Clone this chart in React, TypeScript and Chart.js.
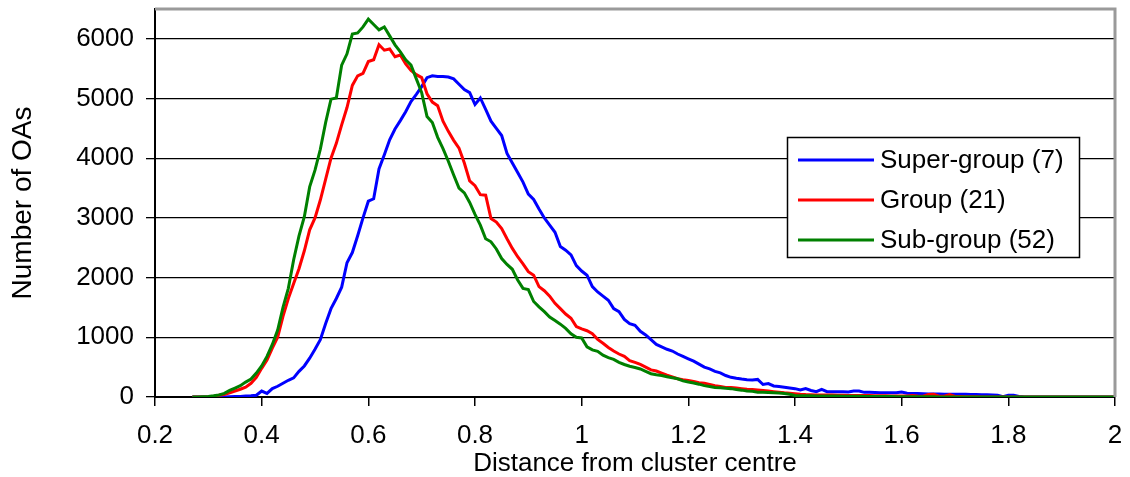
import { useEffect, useRef } from "react";
import { Chart, registerables } from "chart.js";

Chart.register(...registerables);

// Histogram bins: distance from cluster centre, 0.01 wide, starting at 0.27
const BIN_START = 0.27;
const BIN_WIDTH = 0.01;

// Number of output areas per bin, one row per 0.1 of distance (0.27-0.36, 0.37-0.46, ...)
const SUPER_GROUP = [
  0, 0, 0, 0, 0, 0, 0, 5, 10, 10,
  15, 20, 30, 100, 60, 140, 180, 230, 280, 320,
  430, 520, 650, 800, 960, 1230, 1480, 1650, 1840, 2250,
  2420, 2700, 3000, 3280, 3320, 3820, 4060, 4310, 4490, 4630,
  4780, 4950, 5070, 5200, 5350, 5380, 5370, 5370, 5360, 5330,
  5240, 5150, 5100, 4900, 5010, 4820, 4620, 4500, 4380, 4080,
  3920, 3760, 3600, 3400, 3310, 3150, 3000, 2880, 2760, 2520,
  2460, 2380, 2200, 2110, 2040, 1850, 1760, 1690, 1620, 1480,
  1430, 1300, 1230, 1200, 1100, 1040, 960, 880, 840, 800,
  770, 720, 680, 640, 600, 550, 500, 470, 430, 405,
  360, 330, 313, 300, 290, 285, 295, 210, 225, 185,
  175, 162, 150, 140, 117, 140, 110, 90, 128, 90,
  90, 88, 88, 85, 100, 100, 78, 78, 75, 73,
  73, 72, 70, 85, 62, 60, 58, 55, 52, 50,
  50, 48, 48, 46, 45, 45, 42, 40, 38, 36,
  33, 30, 5, 30, 28, 10, 0, 0, 0, 0,
  0, 0, 0, 0, 0, 0, 0, 0, 0, 0,
  0, 0, 0, 0,
];

const GROUP = [
  0, 0, 0, 0, 10, 30, 40, 70, 100, 130,
  165, 230, 330, 480, 620, 820, 1000, 1350, 1650, 1900,
  2150, 2450, 2800, 3000, 3300, 3650, 4000, 4250, 4560, 4850,
  5220, 5380, 5420, 5620, 5650, 5900, 5810, 5830, 5700, 5730,
  5580, 5470, 5400, 5350, 5080, 4940, 4880, 4620, 4450, 4300,
  4170, 3920, 3620, 3540, 3390, 3380, 2990, 2930, 2820, 2650,
  2490, 2350, 2230, 2100, 2040, 1850, 1780, 1690, 1570, 1480,
  1390, 1320, 1180, 1140, 1110, 1060, 965, 900, 830, 770,
  720, 680, 610, 580, 545, 500, 455, 435, 400, 365,
  335, 305, 290, 278, 260, 240, 230, 210, 190, 175,
  160, 160, 150, 140, 130, 125, 118, 110, 100, 90,
  80, 70, 62, 55, 45, 40, 38, 35, 35, 33,
  33, 30, 28, 27, 26, 25, 25, 24, 22, 20,
  20, 18, 18, 17, 16, 25, 15, 14, 40, 45,
  14, 12, 40, 10, 8, 6, 4, 3, 2, 0,
  0, 0, 0, 0, 0, 0, 0, 0, 0, 0,
  0, 0, 0, 0, 0, 0, 0, 0, 0, 0,
  0, 0, 0, 0,
];

const SUB_GROUP = [
  0, 0, 5, 10, 20, 35, 60, 110, 150, 190,
  250, 300, 400, 520, 680, 880, 1120, 1500, 1820, 2300,
  2700, 3020, 3520, 3800, 4150, 4600, 4990, 5010, 5560, 5750,
  6080, 6100, 6200, 6330, 6240, 6150, 6200, 6050, 5900, 5780,
  5650, 5560, 5330, 5100, 4700, 4600, 4350, 4160, 3950, 3720,
  3500, 3420, 3260, 3060, 2880, 2650, 2600, 2480, 2320, 2220,
  2140, 1960, 1820, 1800, 1600, 1510, 1430, 1340, 1280, 1220,
  1150, 1060, 1000, 990, 840, 790, 765, 700, 660, 630,
  580, 545, 515, 495, 470, 430, 390, 372, 360, 340,
  322, 305, 270, 250, 235, 215, 190, 175, 160, 155,
  145, 140, 125, 115, 100, 95, 80, 80, 75, 70,
  65, 60, 45, 25, 22, 20, 20, 18, 18, 16,
  15, 15, 14, 13, 12, 12, 10, 10, 9, 8,
  8, 7, 6, 5, 5, 4, 4, 3, 3, 3,
  2, 2, 2, 1, 1, 0, 0, 0, 0, 0,
  0, 0, 0, 0, 0, 0, 0, 0, 0, 0,
  0, 0, 0, 0, 0, 0, 0, 0, 0, 0,
  0, 0, 0, 0,
];

const SERIES_NAMES = ["Super-group (7)", "Group (21)", "Sub-group (52)"];
const SERIES_COLORS = ["#0000ff", "#ff0000", "#008000"];

const X_TICKS = [0.2, 0.4, 0.6, 0.8, 1.0, 1.2, 1.4, 1.6, 1.8, 2.0];
const X_TICK_LABELS = ["0.2", "0.4", "0.6", "0.8", "1", "1.2", "1.4", "1.6", "1.8", "2"];
const Y_TICKS = [0, 1000, 2000, 3000, 4000, 5000, 6000];

const FONT_FAMILY = "'Liberation Sans', Arial, Helvetica, sans-serif";

const toPoints = (values: number[]) =>
  values.map((y, i) => ({ x: +(BIN_START + i * BIN_WIDTH).toFixed(2), y }));

// Grey frame along the top and right of the plot area
const framePlugin = {
  id: "plotFrame",
  afterDatasetsDraw(chart: any) {
    const { ctx, chartArea } = chart;
    ctx.save();
    ctx.strokeStyle = "#9a9a9a";
    ctx.lineWidth = 3;
    ctx.beginPath();
    ctx.moveTo(chartArea.left, chartArea.top);
    ctx.lineTo(chartArea.right, chartArea.top);
    ctx.lineTo(chartArea.right, chartArea.bottom);
    ctx.stroke();
    ctx.restore();
  },
};

// Boxed legend drawn inside the plot area
const boxLegendPlugin = {
  id: "boxLegend",
  afterDatasetsDraw(chart: any, _args: any, opts: any) {
    const { ctx, chartArea } = chart;
    const left = Math.round(chartArea.right - opts.right - opts.width);
    const top = Math.round(chartArea.top + opts.top);
    ctx.save();
    ctx.fillStyle = "#ffffff";
    ctx.fillRect(left, top, opts.width, opts.height);
    ctx.strokeStyle = "#000000";
    ctx.lineWidth = 1.5;
    ctx.strokeRect(left + 0.5, top + 0.5, opts.width, opts.height);
    ctx.font = `26px ${FONT_FAMILY}`;
    ctx.textBaseline = "middle";
    ctx.textAlign = "left";
    chart.data.datasets.forEach((ds: any, i: number) => {
      const y = top + opts.firstRow + i * opts.rowGap;
      ctx.strokeStyle = ds.borderColor;
      ctx.lineWidth = 3;
      ctx.beginPath();
      ctx.moveTo(left + 11, y);
      ctx.lineTo(left + 87, y);
      ctx.stroke();
      ctx.fillStyle = "#000000";
      ctx.fillText(ds.label, left + 93, y + 1);
    });
    ctx.restore();
  },
};

export default function App() {
  const canvasRef = useRef<HTMLCanvasElement | null>(null);

  useEffect(() => {
    const canvas = canvasRef.current;
    if (!canvas) return;
    const series = [SUPER_GROUP, GROUP, SUB_GROUP];
    const chart = new Chart(canvas, {
      type: "line",
      data: {
        datasets: series.map((values, i) => ({
          label: SERIES_NAMES[i],
          data: toPoints(values),
          borderColor: SERIES_COLORS[i],
          backgroundColor: SERIES_COLORS[i],
          borderWidth: 3,
          pointRadius: 0,
          tension: 0,
          fill: false,
          order: series.length - i,
        })),
      },
      options: {
        responsive: false,
        animation: false,
        devicePixelRatio: 1,
        layout: { padding: { left: 0, right: 15, top: 9, bottom: 0 } },
        plugins: {
          legend: { display: false },
          tooltip: { enabled: false },
          boxLegend: { right: 36, top: 128, width: 292, height: 120, firstRow: 23, rowGap: 40 },
        } as any,
        scales: {
          x: {
            type: "linear",
            min: 0.2,
            max: 2.0,
            afterBuildTicks: (s: any) => {
              s.ticks = X_TICKS.map((v) => ({ value: v }));
            },
            afterFit: (s: any) => {
              s.height = 80;
              s.paddingLeft = 0;
              s.paddingRight = 0;
            },
            ticks: {
              autoSkip: false,
              maxRotation: 0,
              color: "#000",
              padding: 14,
              font: { family: FONT_FAMILY, size: 26 },
              callback: (_v: any, i: number) => X_TICK_LABELS[i],
            },
            grid: {
              drawOnChartArea: false,
              drawTicks: true,
              tickLength: 9,
              color: "#000",
              lineWidth: 1.5,
            },
            border: { display: true, color: "#000", width: 2 },
            title: {
              display: true,
              text: "Distance from cluster centre",
              color: "#000",
              font: { family: FONT_FAMILY, size: 26, lineHeight: 1 },
              padding: { top: 0, bottom: 0 },
            },
          },
          y: {
            type: "linear",
            min: 0,
            max: 6500,
            afterBuildTicks: (s: any) => {
              s.ticks = Y_TICKS.map((v) => ({ value: v }));
            },
            afterFit: (s: any) => {
              s.width = 155;
              s.paddingTop = 0;
              s.paddingBottom = 0;
            },
            ticks: {
              color: "#000",
              padding: 12,
              font: { family: FONT_FAMILY, size: 26 },
              callback: (v: any) => String(v),
            },
            grid: {
              color: "#000",
              lineWidth: 1.3,
              drawTicks: true,
              tickLength: 9,
            },
            border: { display: true, color: "#000", width: 2 },
            title: {
              display: true,
              text: "Number of OAs",
              color: "#000",
              font: { family: FONT_FAMILY, size: 28, lineHeight: 1 },
              padding: { top: 9, bottom: 0 },
            },
          },
        },
      },
      plugins: [framePlugin, boxLegendPlugin],
    });
    return () => chart.destroy();
  }, []);

  return (
    <div
      style={{
        position: "fixed",
        left: 0,
        top: 0,
        width: 1130,
        height: 477,
        background: "#ffffff",
      }}
    >
      <canvas ref={canvasRef} width={1130} height={477} />
    </div>
  );
}
